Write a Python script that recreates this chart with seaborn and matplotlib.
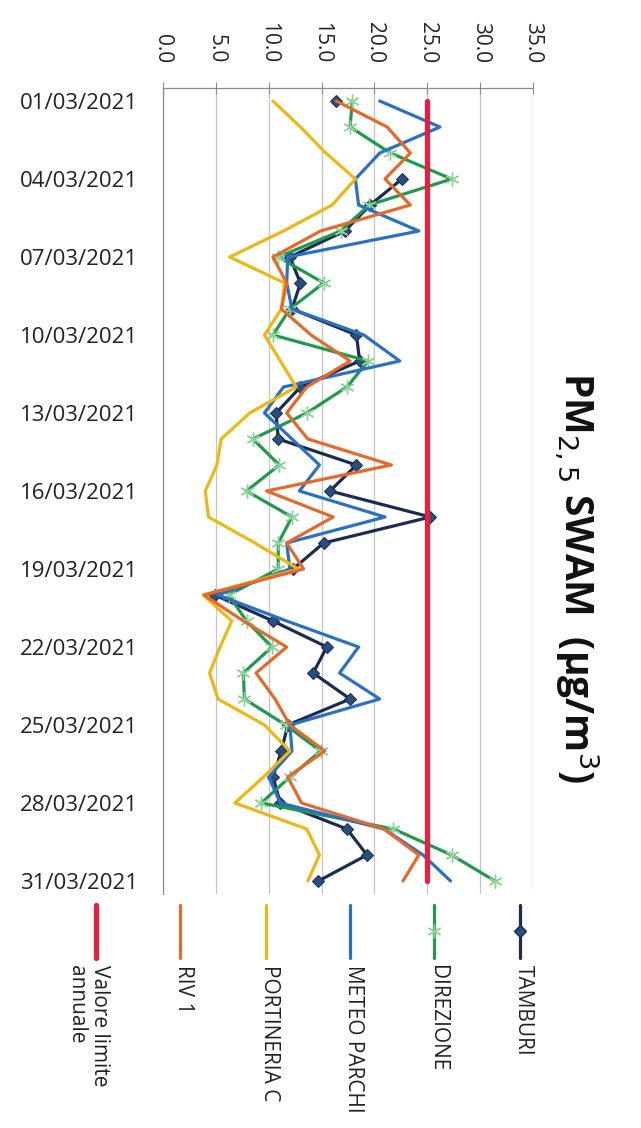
import numpy as np
import pandas as pd
import matplotlib
matplotlib.use("Agg")
import matplotlib.pyplot as plt
from matplotlib.lines import Line2D
import seaborn as sns

# PM2,5 daily values, March 2021
dates = [f"{d:02d}/03/2021" for d in range(1, 32)]

tamburi = [16.4, np.nan, np.nan, 22.6, 19.6, 17.2, 12.0, 13.0, 12.2, 18.3,
           18.6, 13.0, 10.7, 10.9, 18.3, 15.8, 25.3, 15.2, 12.3, 4.9,
           10.4, 15.5, 14.2, 17.7, 11.8, 11.2, 10.4, 11.1, 17.4, 19.3, 14.7]
direzione = [17.9, 17.7, 21.5, 27.3, 19.5, 16.8, 10.9, 15.2, 12.0, 10.4,
             19.4, 17.4, 13.6, 8.5, 11.0, 7.9, 12.2, 10.9, 10.9, 6.2,
             7.9, 10.3, 7.6, 7.7, 11.6, 14.9, 12.0, 9.3, 21.8, 27.3, 31.4]
meteo_parchi = [20.5, 26.2, 20.5, 18.2, 18.5, 24.2, 11.8, 11.7, 12.2, 19.0,
                22.4, 11.4, 9.6, 12.2, 14.8, 12.9, 21.0, 11.7, 12.0, 5.2,
                11.7, 18.5, 16.7, 20.5, 12.0, 12.2, 10.0, 11.1, 20.9, 24.6, 27.2]
portineria_c = [10.4, 13.0, 15.4, 18.2, 16.0, 11.4, 6.3, 11.5, 11.2, 9.6,
                11.1, 12.6, 8.2, 5.5, 5.1, 4.0, 4.3, 8.7, 12.8, 3.8,
                6.5, 5.4, 4.4, 5.2, 9.6, 12.0, 9.5, 6.8, 13.6, 14.8, 13.7]
riv_1 = [16.4, 21.2, 23.4, 21.0, 23.4, 14.9, 10.4, 11.7, 11.2, 14.0,
         17.7, 13.6, 11.7, 13.7, 21.6, 9.8, 16.1, 11.7, 13.3, 3.9,
         7.6, 11.7, 8.8, 10.6, 12.0, 15.3, 11.8, 13.1, 20.9, 24.2, 22.7]
limite = [25.0] * 31

series_names = ["TAMBURI", "DIREZIONE", "METEO PARCHI", "PORTINERIA C", "RIV 1",
                "Valore limite\nannuale"]
series_values = [tamburi, direzione, meteo_parchi, portineria_c, riv_1, limite]
colors = ["#1C2B52", "#1F9A4C", "#2A70C4", "#EDB812", "#E4692A", "#E3203F"]
widths = [2.3, 2.3, 2.3, 2.3, 2.3, 3.8]

W, H = 641, 1128


def fx(x):
    return x / W


def fy(y):
    return 1 - y / H


sns.set_style("white")
plt.rcParams["font.family"] = ["Open Sans", "DejaVu Sans"]

fig = plt.figure(figsize=(W / 100, H / 100), dpi=100)
ax = fig.add_axes([fx(163), fy(894), fx(533) - fx(163), fy(88) - fy(894)])

pos = np.arange(1, len(dates) + 1)

for name, vals, col, lw in zip(series_names, series_values, colors, widths):
    df = pd.DataFrame({"day": pos, "value": vals})
    # break the line where values are missing
    df["seg"] = df["value"].isna().cumsum()
    df = df.dropna()
    kw = {}
    if name == "TAMBURI":
        kw = dict(marker="D", markersize=6.5, markerfacecolor="#28507E",
                  markeredgecolor="#1C2B52")
    elif name == "DIREZIONE":
        kw = dict(marker=(6, 2, 0), markersize=10, markeredgecolor="#8CD39A",
                  markeredgewidth=1.0)
    sns.lineplot(data=df, x="value", y="day", units="seg", estimator=None,
                 orient="y", color=col, linewidth=lw, ax=ax, legend=False, **kw)

ax.set_xlim(0, 35)
ax.set_ylim(31.5, 0.5)

# value axis on top, rotated labels
ax.xaxis.set_ticks_position("top")
ax.xaxis.set_label_position("top")
ax.set_xticks(np.arange(0, 36, 5))
ax.set_xticklabels([f"{v:.1f}" for v in np.arange(0, 36, 5)], rotation=-90,
                   fontsize=15, color="#222222")
ax.tick_params(axis="x", direction="inout", length=8, width=0.8,
               color="#8C8C8C", pad=14)

# date axis on the left
ax.set_yticks(pos[::3])
ax.set_yticklabels(dates[::3], fontsize=16, color="#222222")
ax.set_yticks(np.arange(0.5, 32, 3), minor=True)
ax.tick_params(axis="y", which="major", length=0, pad=18)
ax.tick_params(axis="y", which="minor", length=7, width=0.8, color="#8C8C8C")

ax.grid(axis="x", color="#C4C4C4", linewidth=0.9)
ax.set_xlabel("")
ax.set_ylabel("")
for side in ["right", "bottom"]:
    ax.spines[side].set_visible(False)
for side in ["top", "left"]:
    ax.spines[side].set_color("#8C8C8C")
    ax.spines[side].set_linewidth(0.9)

# title (chart is rotated by 90 degrees)
fig.text(fx(577), fy(578), r"PM$_{2,5}$ SWAM  (µg/m$^3$)", rotation=-90,
         ha="center", va="center", fontsize=28, fontweight="bold",
         color="#111111")

# rotated legend below the plot
leg_x = [520, 434, 350, 266, 180, 96]
for lx, name, col, lw in zip(leg_x, series_names, colors, widths):
    fig.add_artist(Line2D([fx(lx), fx(lx)], [fy(905), fy(958)], color=col,
                          linewidth=lw, transform=fig.transFigure))
    if name == "TAMBURI":
        fig.add_artist(Line2D([fx(lx)], [fy(931)], marker="D", markersize=6.5,
                              markerfacecolor="#28507E",
                              markeredgecolor="#1C2B52",
                              transform=fig.transFigure))
    elif name == "DIREZIONE":
        fig.add_artist(Line2D([fx(lx)], [fy(931)], marker=(6, 2, 0),
                              markersize=10, markeredgecolor="#8CD39A",
                              transform=fig.transFigure))
    fig.text(fx(lx + 14), fy(965), name, rotation=-90, rotation_mode="anchor",
             ha="left", va="top", fontsize=15, color="#222222",
             linespacing=1.1)

fig.savefig("out.png", dpi=100)
